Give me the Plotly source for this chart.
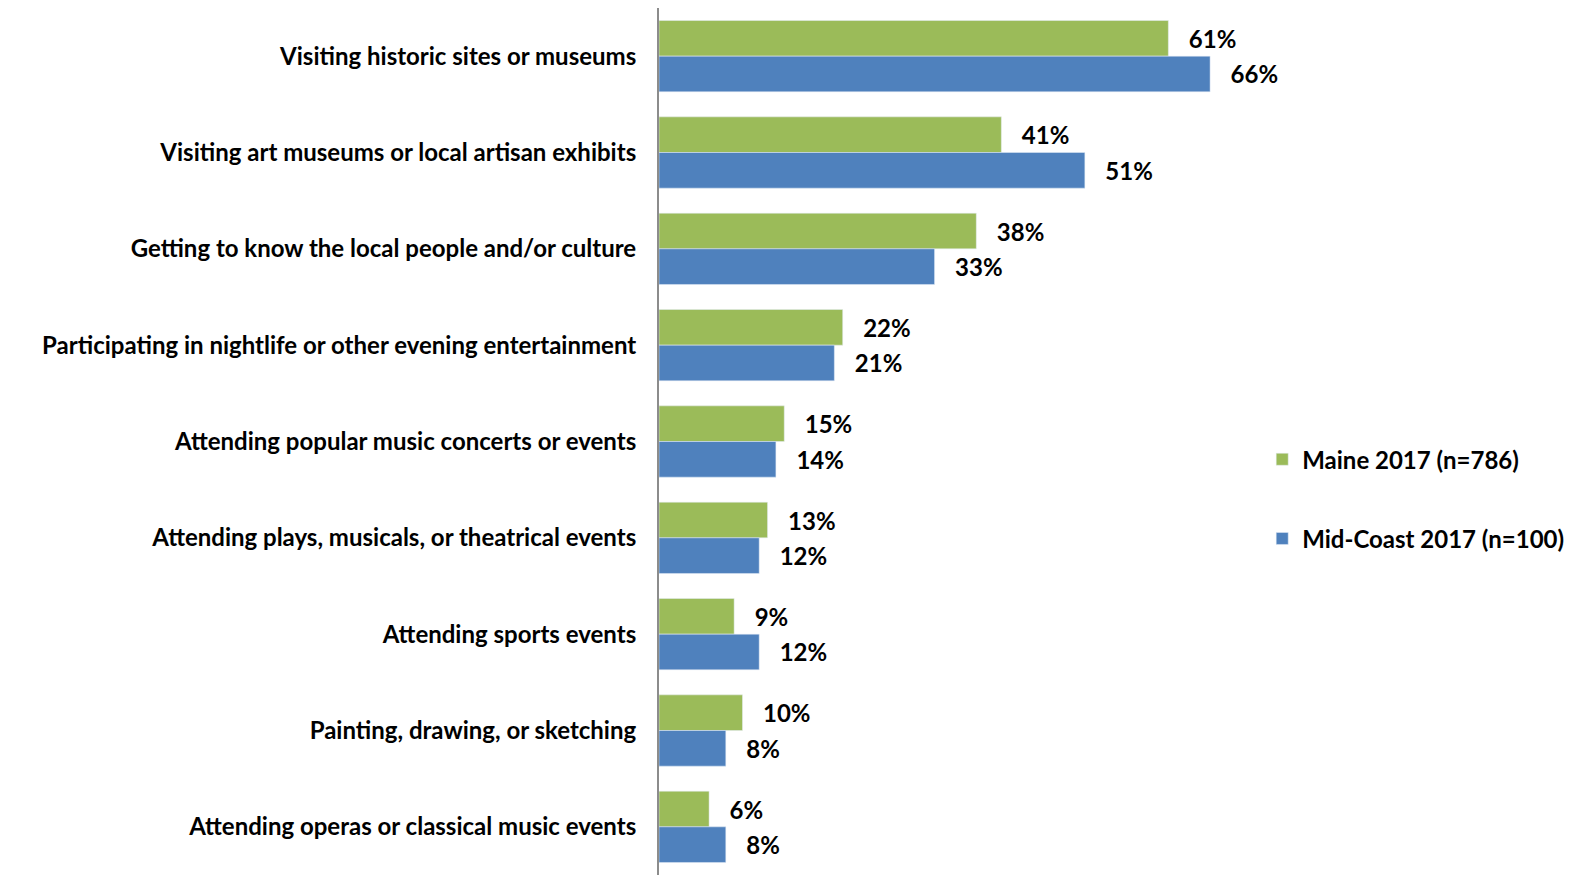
import plotly.graph_objects as go

categories = [
    "Visiting historic sites or museums",
    "Visiting art museums or local artisan exhibits",
    "Getting to know the local people and/or culture",
    "Participating in nightlife or other evening entertainment",
    "Attending popular music concerts or events",
    "Attending plays, musicals, or theatrical events",
    "Attending sports events",
    "Painting, drawing, or sketching",
    "Attending operas or classical music events",
]
maine_2017 = [61, 41, 38, 22, 15, 13, 9, 10, 6]
midcoast_2017 = [66, 51, 33, 21, 14, 12, 12, 8, 8]

FONT = "Lato"
SIZE = 24
GREEN = "#9BBB59"
BLUE = "#4F81BD"

fig = go.Figure()
fig.add_trace(go.Bar(
    y=categories, x=maine_2017, orientation="h", name="Maine 2017 (n=786)",
    marker=dict(color=GREEN), legendgroup="a",
    text=[f"{v}%" for v in maine_2017], texttemplate="   %{text}",
    textposition="outside", cliponaxis=False,
    textfont=dict(family=FONT, size=SIZE, color="black", weight="bold"),
))
fig.add_trace(go.Bar(
    y=categories, x=midcoast_2017, orientation="h", name="Mid-Coast 2017 (n=100)",
    marker=dict(color=BLUE), legendgroup="b",
    text=[f"{v}%" for v in midcoast_2017], texttemplate="   %{text}",
    textposition="outside", cliponaxis=False,
    textfont=dict(family=FONT, size=SIZE, color="black", weight="bold"),
))

fig.update_layout(
    width=1576, height=879,
    margin=dict(l=659, r=249, t=8, b=4),
    paper_bgcolor="white", plot_bgcolor="white",
    barmode="group", bargap=0.26, bargroupgap=0,
    font=dict(family=FONT, size=SIZE, color="black"),
    legend=dict(
        x=0.903, xanchor="left", y=0.505, yanchor="top",
        font=dict(family=FONT, size=SIZE, color="black", weight="bold"),
        tracegroupgap=45, traceorder="grouped", bgcolor="rgba(0,0,0,0)",
    ),
    xaxis=dict(range=[0, 80], showgrid=False, zeroline=False, showticklabels=False,
               showline=False, fixedrange=True),
    yaxis=dict(autorange="reversed", showgrid=False, zeroline=False,
               showline=True, linecolor="#8c8c8c", linewidth=2,
               ticks="", ticklabelstandoff=16,
               tickfont=dict(family=FONT, size=SIZE, color="black", weight="bold")),
)

fig.write_html("out.html")
